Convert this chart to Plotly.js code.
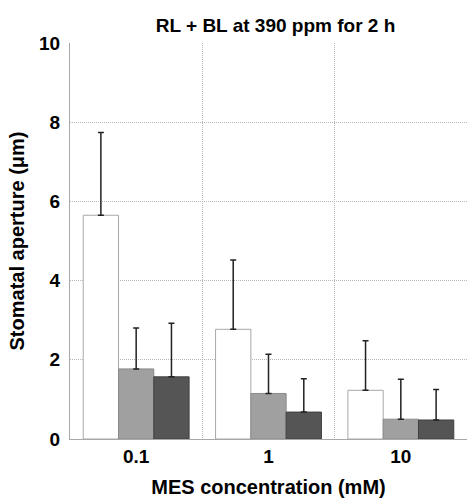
<!DOCTYPE html>
<html>
<head>
<meta charset="utf-8">
<script src="https://cdn.plot.ly/plotly-3.0.1.min.js"></script>
<style>html,body{margin:0;padding:0;background:#fff;}#chart{width:467px;height:498px;}</style>
</head>
<body>
<div id="chart"></div>
<script>
const categories = ["0.1", "1", "10"];
const whiteVals = [5.65, 2.77, 1.23];
const whiteErr = [2.09, 1.75, 1.25];
const lightVals = [1.77, 1.15, 0.50];
const lightErr = [1.03, 0.99, 1.01];
const darkVals = [1.57, 0.68, 0.48];
const darkErr = [1.35, 0.84, 0.77];
const yTicks = [0, 2, 4, 6, 8, 10];

function series(vals, errs, fill, line) {
  return {
    type: "bar", x: categories, y: vals,
    marker: {color: fill, line: {color: line, width: 1}},
    error_y: {type: "data", array: errs, arrayminus: errs.map(() => 0), symmetric: false,
              color: "#222", thickness: 1.5, width: 3},
    showlegend: false, hoverinfo: "skip"
  };
}
const data = [
  series(whiteVals, whiteErr, "#ffffff", "#a8a8a8"),
  series(lightVals, lightErr, "#a0a0a0", "#8a8a8a"),
  series(darkVals, darkErr, "#555555", "#404040")
];
const font = {family: "Liberation Sans, Arial, sans-serif", color: "#000"};
const layout = {
  width: 467, height: 498,
  margin: {l: 70, r: 0, t: 43, b: 59},
  paper_bgcolor: "#fff", plot_bgcolor: "#fff",
  barmode: "group", bargap: 0.2, bargroupgap: 0,
  font: font,
  title: {text: "<b>RL + BL at 390 ppm for 2 h</b>", font: {size: 19, family: font.family, color: "#000"},
          x: 0.59, xanchor: "center", y: 0.95, yanchor: "middle"},
  xaxis: {
    type: "category", tickson: "boundaries", ticks: "", showgrid: true,
    gridcolor: "#b8b8b8", griddash: "1px,1px", gridwidth: 1,
    showline: true, linecolor: "#a8a8a8", linewidth: 1,
    tickfont: {size: 19, family: font.family, color: "#000", weight: "bold"},
    title: {text: "<b>MES concentration (mM)</b>", font: {size: 20, family: font.family, color: "#000"}, standoff: 15},
    zeroline: false, fixedrange: true
  },
  yaxis: {
    range: [0, 10], tickvals: yTicks, ticktext: yTicks.map(String), ticks: "",
    showgrid: true, gridcolor: "#b8b8b8", griddash: "1px,1px", gridwidth: 1,
    showline: true, linecolor: "#a8a8a8", linewidth: 1, zeroline: false,
    tickfont: {size: 19, family: font.family, color: "#000", weight: "bold"},
    ticklabelstandoff: 5,
    title: {text: "<b>Stomatal aperture (μm)</b>", font: {size: 20, family: font.family, color: "#000"}, standoff: 9},
    fixedrange: true
  }
};
Plotly.newPlot("chart", data, layout, {staticPlot: true, displayModeBar: false});
</script>
</body>
</html>
